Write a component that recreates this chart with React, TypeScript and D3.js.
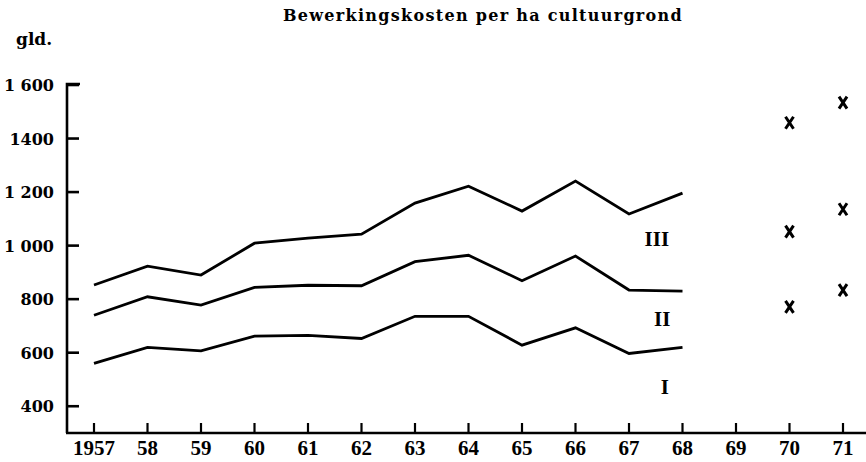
import React from 'react';
import * as d3 from 'd3';

const width = 866;
const height = 462;

// jaren en kosten (gld. per ha)
const years = [1957, 1958, 1959, 1960, 1961, 1962, 1963, 1964, 1965, 1966, 1967, 1968];
const groupI = [560, 620, 607, 662, 665, 653, 736, 736, 628, 693, 597, 620];
const groupII = [740, 809, 778, 844, 852, 850, 940, 964, 869, 961, 834, 830];
const groupIII = [853, 923, 890, 1009, 1028, 1043, 1159, 1222, 1129, 1241, 1118, 1196];
const seriesNames = ['I', 'II', 'III'];

const crossYears = [1970, 1970, 1970, 1971, 1971, 1971];
const crossValues = [771, 1052, 1459, 834, 1136, 1534];

const tickYears = d3.range(1957, 1972);
const tickLabels = ['1957', '58', '59', '60', '61', '62', '63', '64', '65', '66', '67', '68', '69', '70', '71'];
const yTicks = [400, 600, 800, 1000, 1200, 1400, 1600];
const yTickLabels = ['400', '600', '800', '1 000', '1 200', '1400', '1 600'];

const serif = '"DejaVu Serif", serif';
const libSerif = '"Liberation Serif", serif';

export default function App() {
  const x = d3.scaleLinear().domain([1957, 1971]).range([94, 843]);
  const y = d3.scaleLinear().domain([300, 1600]).range([433, 85]);

  const line = d3.line<number>()
    .x((d, i) => x(years[i]))
    .y(d => y(d));

  const all = [groupI, groupII, groupIII];
  // labels onder het eind van elke lijn
  const labelPos = [
    { year: 1967.67, value: 446 },
    { year: 1967.62, value: 700 },
    { year: 1967.52, value: 998 },
  ];

  const cross = (cx: number, cy: number) =>
    `M${cx - 4},${cy - 6} L${cx + 4},${cy + 6} M${cx + 4},${cy - 6} L${cx - 4},${cy + 6}`;

  return (
    <svg width={width} height={height} style={{ position: 'absolute', left: 0, top: 0, background: '#fff' }}>
      <text x={483} y={21} textAnchor="middle" fontFamily={serif} fontWeight="bold" fontSize={16} letterSpacing={1.3}>
        Bewerkingskosten per ha cultuurgrond
      </text>
      <text x={16} y={45} fontFamily={serif} fontWeight="bold" fontSize={17}>gld.</text>

      {/* y-as */}
      <path d={`M80,${y(1600) - 1} L67,${y(1600) - 1} L67,${y(300)}`} fill="none" stroke="#000" strokeWidth={2.6} />
      {yTicks.map((t, i) => (
        <g key={t}>
          <line x1={67} x2={79} y1={y(t)} y2={y(t)} stroke="#000" strokeWidth={2.6} />
          <text x={54} y={y(t) + 6} textAnchor="end" fontFamily={serif} fontWeight="bold" fontSize={16}>
            {yTickLabels[i]}
          </text>
        </g>
      ))}

      {/* x-as */}
      <line x1={66} x2={866} y1={y(300)} y2={y(300)} stroke="#000" strokeWidth={2.6} />
      {tickYears.map((t, i) => (
        <g key={t}>
          <line x1={x(t)} x2={x(t)} y1={y(300)} y2={y(300) - 10} stroke="#000" strokeWidth={2.2} />
          <text x={x(t)} y={455} textAnchor="middle" fontFamily={libSerif} fontWeight="bold" fontSize={21}>
            {tickLabels[i]}
          </text>
        </g>
      ))}

      {all.map((s, i) => (
        <path key={seriesNames[i]} d={line(s) || ''} fill="none" stroke="#000" strokeWidth={2.8} strokeLinejoin="miter" />
      ))}

      {labelPos.map((p, i) => (
        <text key={i} x={x(p.year)} y={y(p.value)} textAnchor="middle" fontFamily={libSerif} fontWeight="bold" fontSize={21}>
          {seriesNames[i]}
        </text>
      ))}

      {crossValues.map((v, i) => (
        <path key={i} d={cross(x(crossYears[i]), y(v))} fill="none" stroke="#000" strokeWidth={3} />
      ))}
    </svg>
  );
}
